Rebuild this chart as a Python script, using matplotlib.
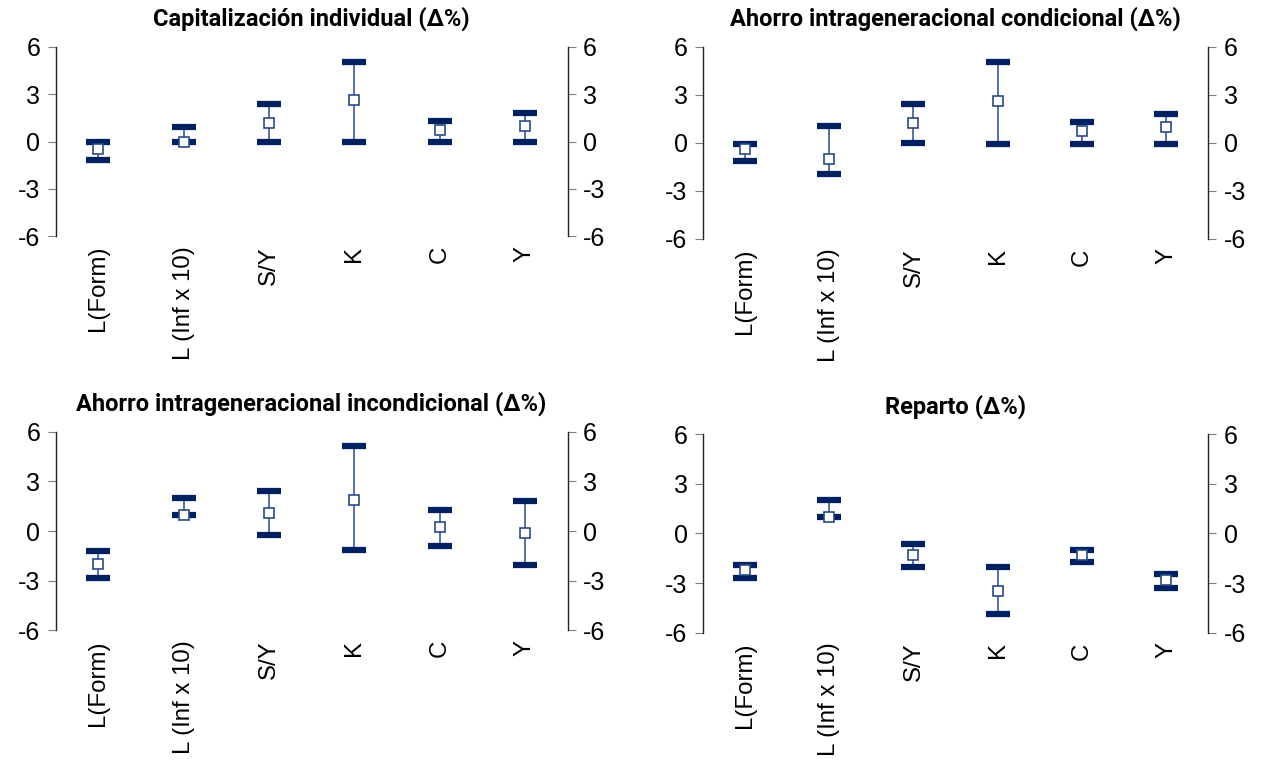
import matplotlib.pyplot as plt
import numpy as np

plt.rcParams["font.family"] = ["Liberation Sans", "DejaVu Sans"]

categories = ["L(Form)", "L (Inf x 10)", "S/Y", "K", "C", "Y"]

titles = [
    "Capitalización individual (Δ%)",
    "Ahorro intrageneracional condicional (Δ%)",
    "Ahorro intrageneracional incondicional (Δ%)",
    "Reparto (Δ%)",
]

# point estimate and lower/upper bounds per variable
cap_mid = [-0.5, 0.0, 1.2, 2.6, 0.7, 1.0]
cap_low = [-1.2, 0.0, 0.0, 0.0, 0.0, 0.0]
cap_high = [0.0, 0.95, 2.4, 5.05, 1.3, 1.8]

cond_mid = [-0.4, -1.0, 1.25, 2.6, 0.73, 1.0]
cond_low = [-1.15, -1.97, -0.02, -0.1, -0.1, -0.1]
cond_high = [-0.08, 1.03, 2.43, 5.05, 1.3, 1.78]

incond_mid = [-2.0, 1.0, 1.12, 1.9, 0.24, -0.1]
incond_low = [-2.84, 1.0, -0.22, -1.14, -0.89, -2.05]
incond_high = [-1.2, 2.03, 2.45, 5.12, 1.3, 1.85]

rep_mid = [-2.23, 1.0, -1.3, -3.5, -1.3, -2.8]
rep_low = [-2.7, 1.0, -2.03, -4.87, -1.72, -3.3]
rep_high = [-1.9, 2.05, -0.63, -2.03, -1.0, -2.45]

series = [
    (cap_mid, cap_low, cap_high),
    (cond_mid, cond_low, cond_high),
    (incond_mid, incond_low, incond_high),
    (rep_mid, rep_low, rep_high),
]

yticks = [-6, -3, 0, 3, 6]
navy = "#002060"
line_col = "#2a4a85"

# axes rectangles in figure fractions: left, bottom, width, height
rects = [
    (0.044, 0.692, 0.405, 0.247),
    (0.556, 0.689, 0.400, 0.250),
    (0.044, 0.178, 0.405, 0.259),
    (0.556, 0.175, 0.400, 0.259),
]

fig = plt.figure(figsize=(12.64, 7.67), dpi=100)

for rect, title, (mid, low, high) in zip(rects, titles, series):
    ax = fig.add_axes(rect)
    x = np.arange(len(categories))
    mid = np.array(mid)
    err = [mid - np.array(low), np.array(high) - mid]
    _, caps, bars = ax.errorbar(
        x, mid, yerr=err, fmt="none", ecolor=line_col, elinewidth=1.1,
        capsize=8.5, capthick=4.5, zorder=2,
    )
    for c in caps:
        c.set_markeredgecolor(navy)
        c.set_color(navy)
    ax.plot(x, mid, ls="none", marker="s", ms=7, mfc="white", mec=line_col,
            mew=1.2, zorder=3)
    ax.set_xlim(-0.5, len(categories) - 0.5)
    ax.set_ylim(-6, 6)
    ax.set_yticks(yticks)
    ax.set_yticklabels([str(t) for t in yticks])
    ax.set_xticks(x)
    ax.set_xticklabels(categories, rotation=90, fontsize=17.3)
    for side in ("top", "bottom"):
        ax.spines[side].set_visible(False)
    for side in ("left", "right"):
        ax.spines[side].set_visible(True)
        ax.spines[side].set_color("#222222")
        ax.spines[side].set_linewidth(1.0)
    ax.tick_params(axis="y", which="both", left=True, right=True,
                   labelleft=True, labelright=True, direction="out",
                   length=6, color="#7f7f7f", labelsize=18, pad=5)
    ax.tick_params(axis="x", length=0, pad=7)
    ax.set_title(title, fontsize=17, fontweight="bold",
                 family=["Roboto", "DejaVu Sans"], pad=15)

fig.savefig("out.png", dpi=100)
